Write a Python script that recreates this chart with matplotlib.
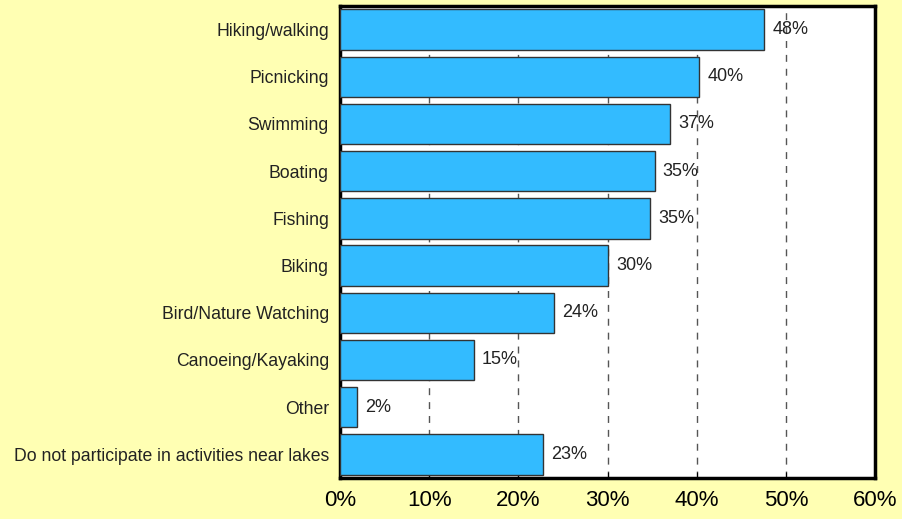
import matplotlib
matplotlib.use("Agg")
from matplotlib import pyplot as plt
import numpy as np

categories = ["Hiking/walking", "Picnicking", "Swimming", "Boating", "Fishing",
              "Biking", "Bird/Nature Watching", "Canoeing/Kayaking", "Other",
              "Do not participate in activities near lakes"]
values = [47.6, 40.3, 37.0, 35.3, 34.8, 30.1, 24.0, 15.0, 1.9, 22.8]
value_labels = ["48%", "40%", "37%", "35%", "35%", "30%", "24%", "15%", "2%", "23%"]
ticks = [0, 10, 20, 30, 40, 50, 60]
tick_labels = ["0%", "10%", "20%", "30%", "40%", "50%", "60%"]

plt.rcParams['font.family'] = ['Liberation Sans', 'DejaVu Sans']

fig = plt.figure(figsize=(9.02, 5.19), dpi=100, facecolor="#FFFFB3")
ax = fig.add_axes([340/902, 1-478/519, 535/902, 472/519])
ax.set_facecolor("white")

y = np.arange(len(categories))
ax.barh(y, values, height=0.86, color="#33BBFF", edgecolor="#333333", linewidth=1, zorder=3)
for yi, v, lab in zip(y, values, value_labels):
    ax.text(v + 0.9, yi, lab, va="center", ha="left", fontsize=13, color="#222222", zorder=4)

ax.set_xlim(0, 60)
ax.set_ylim(len(categories) - 0.5, -0.5)
ax.set_xticks(ticks)
ax.set_xticklabels(tick_labels, fontsize=16)
ax.set_yticks(y)
ax.set_yticklabels(categories, fontsize=12.7, color="#222222")
ax.tick_params(axis="y", length=0, pad=8)
ax.tick_params(axis="x", length=4, direction="in", pad=9)

for t in ticks[1:-1]:
    ax.axvline(t, color="#555555", linestyle=(0, (5, 5)), linewidth=1, zorder=1)

for s in ax.spines.values():
    s.set_linewidth(2.5)
    s.set_color("black")

plt.savefig("out.png", dpi=100, facecolor=fig.get_facecolor())
